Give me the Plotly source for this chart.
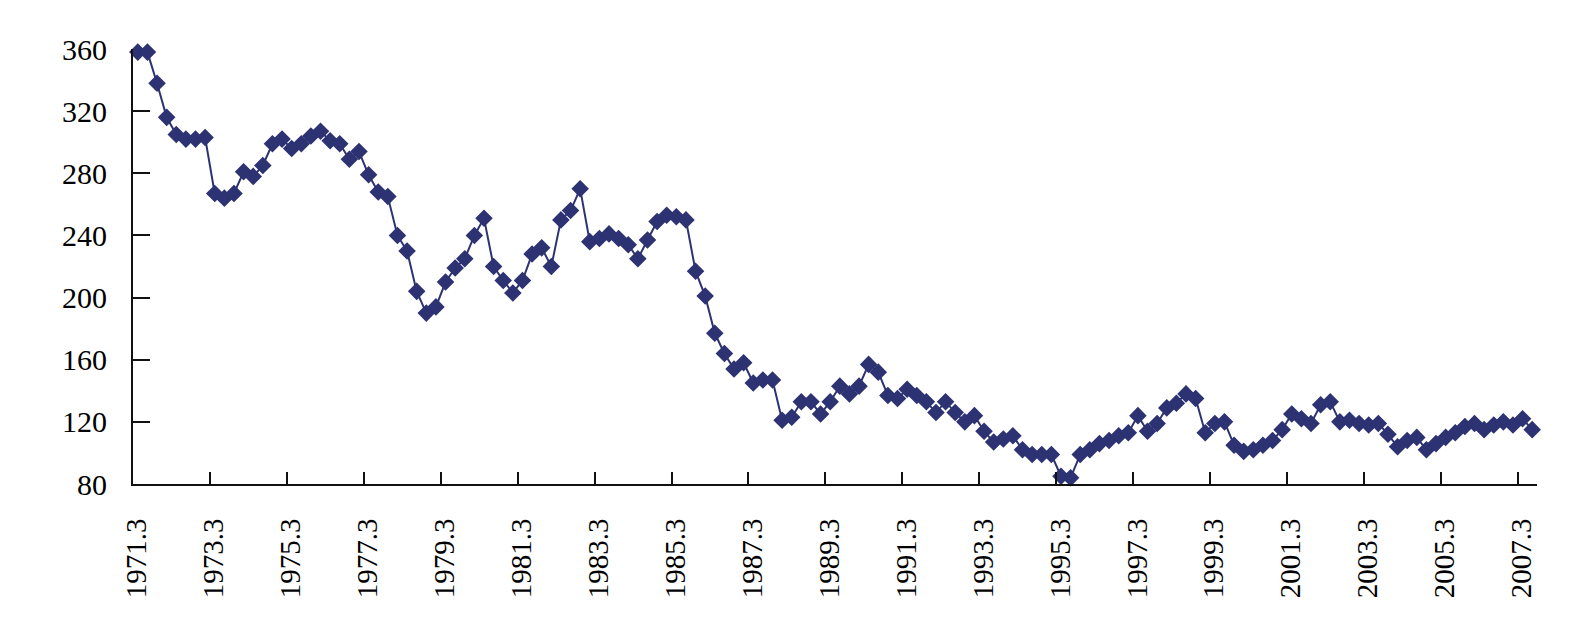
import plotly.graph_objects as go

# Quarterly index values, 1971.3 ... 2007.6 (146 quarters)
values = [
    358, 358, 338, 316, 305, 302, 302, 303,   # 1971-1972
    267, 264, 267, 281, 278, 285, 299, 302,   # 1973-1974
    296, 299, 304, 307, 301, 299, 289, 294,   # 1975-1976
    279, 268, 265, 240, 230, 204, 190, 194,   # 1977-1978
    210, 219, 225, 240, 251, 220, 211, 203,   # 1979-1980
    211, 228, 232, 220, 250, 256, 270, 236,   # 1981-1982
    238, 241, 238, 234, 225, 237, 249, 253,   # 1983-1984
    252, 250, 217, 201, 177, 164, 154, 158,   # 1985-1986
    145, 147, 147, 121, 123, 133, 133, 125,   # 1987-1988
    133, 143, 138, 143, 157, 152, 137, 135,   # 1989-1990
    141, 137, 133, 126, 133, 126, 120, 124,   # 1991-1992
    114, 107, 109, 111, 102, 99, 99, 99,      # 1993-1994
    85, 84, 99, 102, 106, 108, 111, 113,      # 1995-1996
    124, 114, 119, 129, 132, 138, 135, 113,   # 1997-1998
    119, 120, 105, 101, 102, 105, 108, 115,   # 1999-2000
    125, 122, 119, 131, 133, 120, 121, 119,   # 2001-2002
    118, 119, 112, 104, 108, 110, 102, 106,   # 2003-2004
    110, 113, 117, 119, 115, 118, 120, 118,   # 2005-2006
    122, 115,                                 # 2007
]

tick_labels = ["1971.3", "1973.3", "1975.3", "1977.3", "1979.3", "1981.3",
               "1983.3", "1985.3", "1987.3", "1989.3", "1991.3", "1993.3",
               "1995.3", "1997.3", "1999.3", "2001.3", "2003.3", "2005.3",
               "2007.3"]
y_ticks = [80, 120, 160, 200, 240, 280, 320, 360]

x = list(range(len(values)))
tick_pos = [8 * k - 0.5 for k in range(len(tick_labels))]

NAVY = "#2D3272"
FONT = "Liberation Serif, Times New Roman, serif"

fig = go.Figure(
    go.Scatter(
        x=x, y=values, mode="lines+markers",
        line=dict(color=NAVY, width=2),
        marker=dict(symbol="diamond", size=13.5, color=NAVY,
                    line=dict(width=0)),
        cliponaxis=False,
        showlegend=False,
    )
)

fig.update_layout(
    width=1586, height=630,
    margin=dict(l=133, r=49, t=49, b=146, pad=0),
    paper_bgcolor="white", plot_bgcolor="white",
    font=dict(family=FONT, size=30, color="#000"),
)

fig.update_xaxes(
    range=[-0.5, len(values) - 0.5],
    tickmode="array", tickvals=tick_pos, ticktext=tick_labels,
    tickangle=-90, ticks="inside", ticklen=12, tickwidth=1.6,
    tickcolor="#111", ticklabelshift=4, ticklabelstandoff=21,
    showline=True, linecolor="#111", linewidth=1.8,
    showgrid=False, zeroline=False,
    tickfont=dict(family=FONT, size=29, color="#000"),
)
fig.update_yaxes(
    range=[80, 360],
    tickmode="array", tickvals=y_ticks,
    ticks="inside", ticklen=17, tickwidth=1.6, tickcolor="#111",
    ticklabelstandoff=18,
    showline=True, linecolor="#111", linewidth=1.8,
    showgrid=False, zeroline=False,
    tickfont=dict(family=FONT, size=30, color="#000"),
)

fig.write_html("out.html")
